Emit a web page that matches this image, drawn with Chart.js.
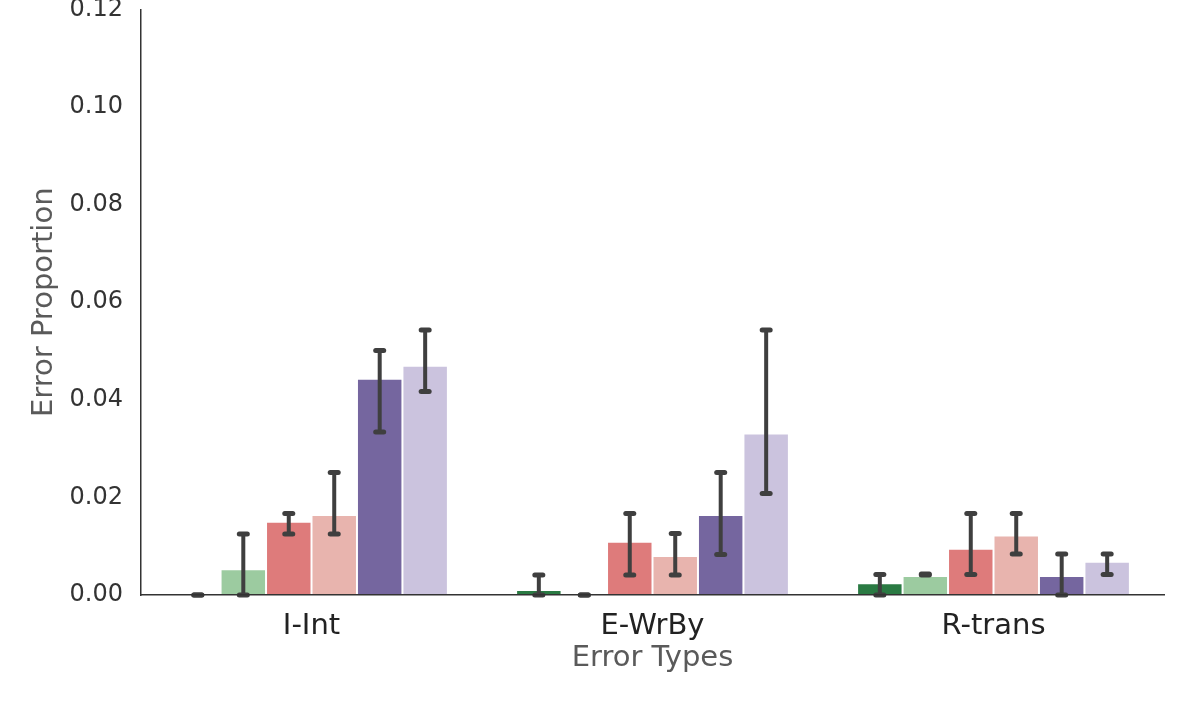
<!DOCTYPE html>
<html>
<head>
<meta charset="utf-8">
<script src="https://cdn.jsdelivr.net/npm/chart.js@4/dist/chart.umd.min.js"></script>
<style>
  html, body { margin: 0; padding: 0; background: #fff; }
  canvas { display: block; }
</style>
</head>
<body>
<canvas id="chart" width="1196" height="713"></canvas>
<script>
// categories on the x axis
const categories = ['I-Int', 'E-WrBy', 'R-trans'];
const yTicks = [0, 0.02, 0.04, 0.06, 0.08, 0.10, 0.12];

// bar heights, one array per series
const darkGreen   = [0.0000, 0.0010, 0.0024];
const lightGreen  = [0.0053, 0.0000, 0.0039];
const red         = [0.0150, 0.0109, 0.0095];
const pink        = [0.0164, 0.0080, 0.0122];
const darkPurple  = [0.0443, 0.0164, 0.0039];
const lightPurple = [0.0470, 0.0331, 0.0068];

// error bar ends (low / high)
const darkGreenLo   = [0.0000, 0.0000, 0.0000];
const darkGreenHi   = [0.0000, 0.0041, 0.0042];
const lightGreenLo  = [0.0000, 0.0000, 0.0041];
const lightGreenHi  = [0.0125, 0.0000, 0.0043];
const redLo         = [0.0125, 0.0041, 0.0042];
const redHi         = [0.0167, 0.0167, 0.0167];
const pinkLo        = [0.0125, 0.0041, 0.0084];
const pinkHi        = [0.0251, 0.0126, 0.0167];
const darkPurpleLo  = [0.0334, 0.0083, 0.0000];
const darkPurpleHi  = [0.0501, 0.0251, 0.0084];
const lightPurpleLo = [0.0417, 0.0208, 0.0042];
const lightPurpleHi = [0.0543, 0.0543, 0.0084];

const series = [
  { label: 'Series 1', data: darkGreen,   lo: darkGreenLo,   hi: darkGreenHi,   color: '#2a7a43' },
  { label: 'Series 2', data: lightGreen,  lo: lightGreenLo,  hi: lightGreenHi,  color: '#9ccba0' },
  { label: 'Series 3', data: red,         lo: redLo,         hi: redHi,         color: '#de7b7b' },
  { label: 'Series 4', data: pink,        lo: pinkLo,        hi: pinkHi,        color: '#e8b4ae' },
  { label: 'Series 5', data: darkPurple,  lo: darkPurpleLo,  hi: darkPurpleHi,  color: '#75669f' },
  { label: 'Series 6', data: lightPurple, lo: lightPurpleLo, hi: lightPurpleHi, color: '#cbc3de' },
];

const FONT = "'DejaVu Sans', sans-serif";

// draws the error whiskers on top of the bars
const errorBars = {
  id: 'errorBars',
  afterDatasetsDraw(chart) {
    const ctx = chart.ctx;
    const y = chart.scales.y;
    ctx.save();
    ctx.strokeStyle = '#3f3f3f';
    ctx.lineCap = 'round';
    chart.data.datasets.forEach((ds, di) => {
      const meta = chart.getDatasetMeta(di);
      meta.data.forEach((bar, i) => {
        const x = bar.x;
        const yLo = y.getPixelForValue(ds.errLo[i]);
        const yHi = y.getPixelForValue(ds.errHi[i]);
        ctx.lineWidth = 4;
        ctx.beginPath();
        ctx.moveTo(x, yLo);
        ctx.lineTo(x, yHi);
        ctx.stroke();
        ctx.lineWidth = 5;
        [yLo, yHi].forEach(py => {
          ctx.beginPath();
          ctx.moveTo(x - 4, py);
          ctx.lineTo(x + 4, py);
          ctx.stroke();
        });
      });
    });
    ctx.restore();
  }
};

new Chart(document.getElementById('chart'), {
  type: 'bar',
  data: {
    labels: categories,
    datasets: series.map(s => ({
      label: s.label,
      data: s.data,
      errLo: s.lo,
      errHi: s.hi,
      backgroundColor: s.color,
      borderColor: '#ffffff',
      borderWidth: 1,
      categoryPercentage: 0.8,
      barPercentage: 1.0,
    })),
  },
  options: {
    responsive: false,
    animation: false,
    devicePixelRatio: 1,
    layout: { padding: { top: 9.5, right: 32, bottom: 0, left: 0 } },
    plugins: {
      legend: { display: false },
      tooltip: { enabled: false },
    },
    scales: {
      x: {
        grid: { display: false, drawTicks: false },
        border: { display: true, color: '#333333', width: 1.5, z: 1 },
        ticks: { color: '#222222', padding: 14, font: { family: FONT, size: 29 } },
        title: {
          display: true,
          text: 'Error Types',
          color: '#5a5a5a',
          font: { family: FONT, size: 29, lineHeight: 1.2 },
          padding: { top: 0, bottom: 37 },
        },
        afterFit(scale) {
          scale.height = 118;
          scale.paddingLeft = 0;
          scale.paddingRight = 0;
        },
      },
      y: {
        min: 0,
        max: 0.12,
        grid: { display: false, drawTicks: false },
        border: { display: true, color: '#333333', width: 1.5 },
        afterBuildTicks(scale) {
          scale.ticks = yTicks.map(v => ({ value: v }));
        },
        ticks: {
          color: '#333333',
          padding: 18,
          font: { family: FONT, size: 24 },
          callback: v => v.toFixed(2),
        },
        title: {
          display: true,
          text: 'Error Proportion',
          color: '#5a5a5a',
          font: { family: FONT, size: 29, lineHeight: 1.2 },
          padding: { top: 27, bottom: 0 },
        },
        afterFit(scale) {
          scale.width = 141;
          scale.paddingTop = 0;
          scale.paddingBottom = 0;
        },
      },
    },
  },
  plugins: [errorBars],
});
</script>
</body>
</html>
